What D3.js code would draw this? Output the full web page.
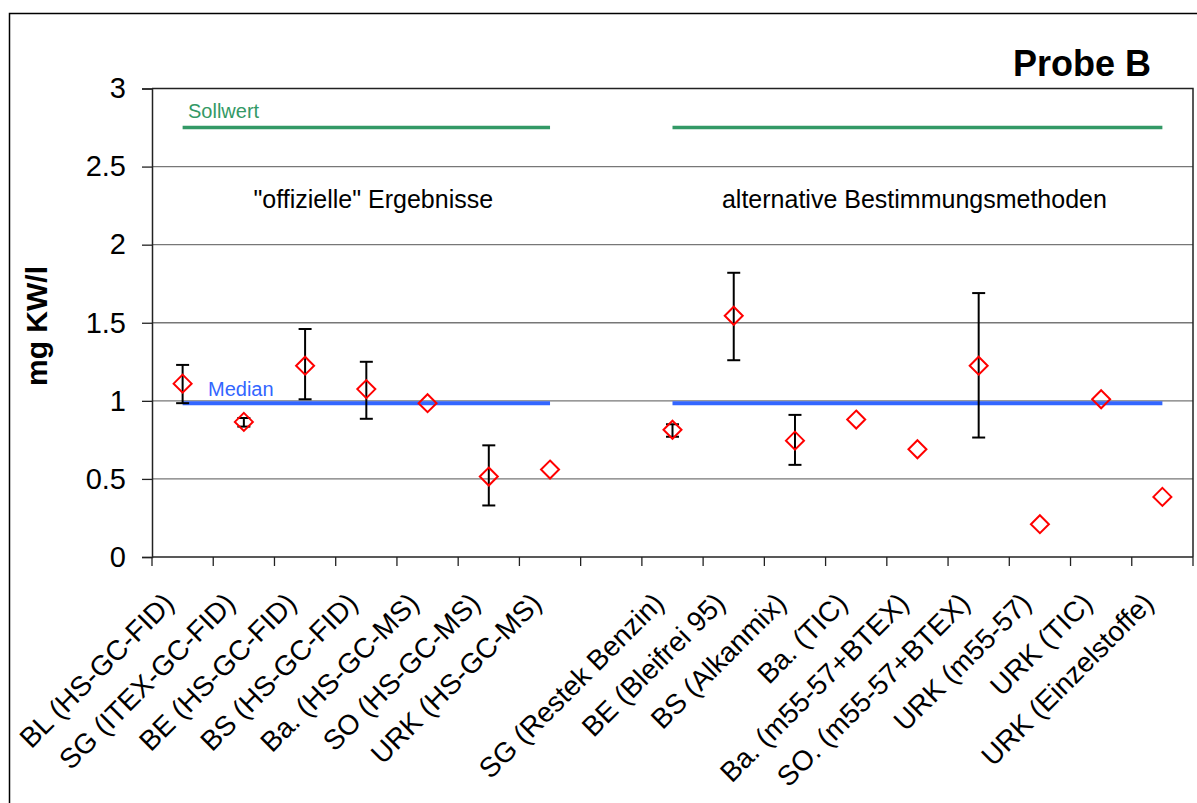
<!DOCTYPE html>
<html lang="de">
<head>
	<meta charset="UTF-8">
	<title>Probe B</title>
	<style>
		html, body {
			margin: 0;
			background: #fff;
			font-family: 'Liberation Sans', Arial, sans-serif;
		}
		svg text {
			font-family: 'Liberation Sans', Arial, sans-serif;
		}
	</style>
	<script src="https://d3js.org/d3.v7.min.js"></script>
</head>
<body>
	<svg id="container"></svg>
	<script>
		// categories (empty slot separates the two groups)
		const categories = [
			'BL (HS-GC-FID)', 'SG (ITEX-GC-FID)', 'BE (HS-GC-FID)', 'BS (HS-GC-FID)',
			'Ba. (HS-GC-MS)', 'SO (HS-GC-MS)', 'URK (HS-GC-MS)', '',
			'SG (Restek Benzin)', 'BE (Bleifrei 95)', 'BS (Alkanmix)', 'Ba. (TIC)',
			'Ba. (m55-57+BTEX)', 'SO. (m55-57+BTEX)', 'URK (m55-57)', 'URK (TIC)', 'URK (Einzelstoffe)',
		];
		const values = [1.11, 0.865, 1.225, 1.075, 0.985, 0.515, 0.56, null,
			0.815, 1.545, 0.745, 0.88, 0.69, 1.225, 0.21, 1.01, 0.385];
		const errLow = [0.985, 0.835, 1.01, 0.885, null, 0.33, null, null,
			0.77, 1.26, 0.59, null, null, 0.765, null, null, null];
		const errHigh = [1.23, 0.89, 1.46, 1.25, null, 0.715, null, null,
			0.85, 1.82, 0.91, null, null, 1.69, null, null, null];
		const yTicks = [0, 0.5, 1, 1.5, 2, 2.5, 3];
		const groups = [
			{ label: '"offizielle" Ergebnisse', first: 0, last: 6, shift: 7 },
			{ label: 'alternative Bestimmungsmethoden', first: 8, last: 16, shift: -3 },
		];
		const sollwert = 2.75;
		const median = 0.985;

		const width = 1197, height = 803;
		const plot = { left: 152, right: 1193, top: 88.5, bottom: 557 };

		const svg = d3.select('#container').attr('width', width).attr('height', height);

		// outer chart frame (runs off the bottom/right edge)
		svg.append('path')
			.attr('d', `M9.5,${height + 5}V13.5H${width + 5}`)
			.attr('fill', 'none').attr('stroke', '#000').attr('stroke-width', 1.5);

		const x = d3.scaleBand().domain(d3.range(categories.length)).range([plot.left, plot.right]);
		const y = d3.scaleLinear().domain([0, 3]).range([plot.bottom, plot.top]);
		const cx = i => x(i) + x.bandwidth() / 2;

		// gridlines
		svg.append('g').selectAll('line')
			.data(yTicks.filter(t => t > 0 && t < 3))
			.enter().append('line')
			.attr('x1', plot.left).attr('x2', plot.right)
			.attr('y1', d => y(d)).attr('y2', d => y(d))
			.attr('stroke', '#777').attr('stroke-width', 1.4);

		// plot frame top/right
		svg.append('path')
			.attr('d', `M${plot.left},${y(3)}H${plot.right}V${plot.bottom}`)
			.attr('fill', 'none').attr('stroke', '#222').attr('stroke-width', 1.5);

		// y axis
		const yAxis = svg.append('g')
			.attr('transform', `translate(${plot.left},0)`)
			.call(d3.axisLeft(y).tickValues(yTicks).tickSize(10).tickPadding(16).tickFormat(d3.format('~g')));
		yAxis.select('.domain').attr('stroke', '#222').attr('stroke-width', 1.5);
		yAxis.selectAll('.tick line').attr('stroke', '#222').attr('stroke-width', 1.3);
		yAxis.selectAll('.tick text').attr('font-size', 29).attr('fill', '#000')
			.attr('font-family', "'Liberation Sans', Arial, sans-serif");

		// x axis ticks at slot boundaries
		const xTicks = d3.range(categories.length + 1).map(i => plot.left + i * x.step());
		svg.append('line')
			.attr('x1', plot.left).attr('x2', plot.right)
			.attr('y1', plot.bottom).attr('y2', plot.bottom)
			.attr('stroke', '#222').attr('stroke-width', 1.5);
		svg.append('g').selectAll('line')
			.data(xTicks)
			.enter().append('line')
			.attr('x1', d => d).attr('x2', d => d)
			.attr('y1', plot.bottom).attr('y2', plot.bottom + 9)
			.attr('stroke', '#222').attr('stroke-width', 1.3);

		// category labels, rotated
		svg.append('g').selectAll('text')
			.data(categories.map((c, i) => ({ c, i })).filter(d => d.c))
			.enter().append('text')
			.attr('transform', d => `translate(${cx(d.i) - 7},${plot.bottom + 48}) rotate(-45)`)
			.attr('text-anchor', 'end')
			.attr('font-size', 28)
			.text(d => d.c);

		// y axis title
		svg.append('text')
			.attr('transform', `translate(47,326) rotate(-90)`)
			.attr('text-anchor', 'middle')
			.attr('font-size', 30).attr('font-weight', 'bold')
			.text('mg KW/l');

		// title
		svg.append('text')
			.attr('x', 1151).attr('y', 76)
			.attr('text-anchor', 'end')
			.attr('font-size', 36).attr('font-weight', 'bold')
			.text('Probe B');

		// reference lines per group
		groups.forEach(g => {
			svg.append('line')
				.attr('x1', cx(g.first)).attr('x2', cx(g.last))
				.attr('y1', y(sollwert)).attr('y2', y(sollwert))
				.attr('stroke', '#339966').attr('stroke-width', 3.5);
			svg.append('line')
				.attr('x1', cx(g.first)).attr('x2', cx(g.last))
				.attr('y1', y(median)).attr('y2', y(median))
				.attr('stroke', '#3366ff').attr('stroke-width', 4);
			svg.append('text')
				.attr('x', (cx(g.first) + cx(g.last)) / 2 + g.shift).attr('y', 208)
				.attr('text-anchor', 'middle')
				.attr('font-size', 25)
				.text(g.label);
		});

		svg.append('text')
			.attr('x', 188).attr('y', 118)
			.attr('font-size', 20).attr('fill', '#339966')
			.text('Sollwert');
		svg.append('text')
			.attr('x', 208).attr('y', 396)
			.attr('font-size', 20).attr('fill', '#3366ff')
			.text('Median');

		// error bars
		const errData = values.map((v, i) => ({ i, lo: errLow[i], hi: errHigh[i] })).filter(d => d.lo != null);
		const eb = svg.append('g').attr('stroke', '#000').attr('stroke-width', 2);
		eb.selectAll('line.v').data(errData).enter().append('line')
			.attr('x1', d => cx(d.i)).attr('x2', d => cx(d.i))
			.attr('y1', d => y(d.lo)).attr('y2', d => y(d.hi));
		eb.selectAll('line.lo').data(errData).enter().append('line')
			.attr('x1', d => cx(d.i) - 6.5).attr('x2', d => cx(d.i) + 6.5)
			.attr('y1', d => y(d.lo)).attr('y2', d => y(d.lo));
		eb.selectAll('line.hi').data(errData).enter().append('line')
			.attr('x1', d => cx(d.i) - 6.5).attr('x2', d => cx(d.i) + 6.5)
			.attr('y1', d => y(d.hi)).attr('y2', d => y(d.hi));

		// diamond markers
		const r = 9;
		svg.append('g').selectAll('path')
			.data(values.map((v, i) => ({ v, i })).filter(d => d.v != null))
			.enter().append('path')
			.attr('d', d => {
				const px = cx(d.i), py = y(d.v);
				return `M${px},${py - r}L${px + r},${py}L${px},${py + r}L${px - r},${py}Z`;
			})
			.attr('fill', 'none').attr('stroke', '#ff0000').attr('stroke-width', 2);
	</script>
</body>
</html>
